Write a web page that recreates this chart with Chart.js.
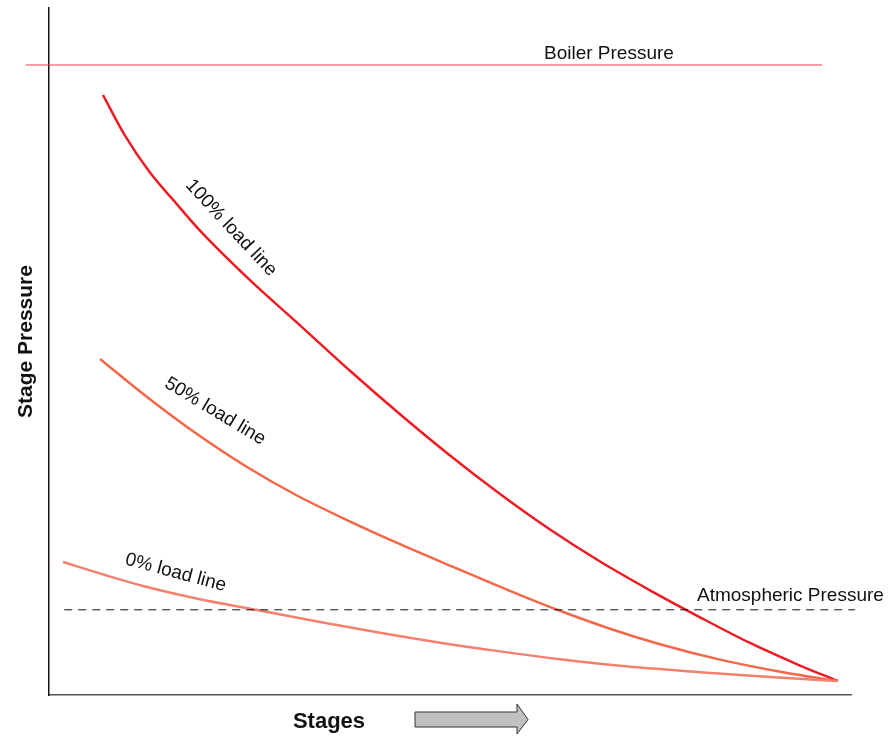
<!DOCTYPE html>
<html>
<head>
<meta charset="utf-8">
<script src="https://cdn.jsdelivr.net/npm/chart.js@4"></script>
<style>
  body { margin: 0; background: #fff; }
  #wrap { width: 891px; height: 736px; }
</style>
</head>
<body>
<div id="wrap"><canvas id="chart" width="891" height="736"></canvas></div>
<script>
// stage position (0 = first stage, 100 = exhaust) vs stage pressure (arbitrary units)
const stages100 = [6.73, 9.48, 12.59, 15.71, 18.83, 25.06, 31.30, 37.53, 43.77, 50.00, 56.24, 62.47, 68.71, 74.94, 81.18, 87.41, 93.64, 98.38];
const pressure100 = [87.34, 81.41, 76.04, 71.76, 67.59, 60.38, 53.81, 47.19, 40.86, 34.86, 29.26, 24.09, 19.43, 15.24, 11.31, 7.57, 4.29, 2.04];

const stages50 = [6.36, 12.22, 18.45, 24.69, 30.92, 37.16, 43.77, 50.38, 56.86, 63.47, 69.95, 76.19, 83.67, 91.52, 98.38];
const pressure50 = [48.91, 43.38, 37.99, 33.19, 29.04, 25.47, 21.96, 18.65, 15.46, 12.37, 9.65, 7.39, 5.15, 3.32, 2.04];

const stages0 = [1.75, 6.98, 12.22, 18.83, 25.94, 33.79, 41.27, 48.75, 56.24, 63.72, 71.20, 81.18, 89.90, 98.38];
const pressure0 = [19.36, 17.47, 15.72, 13.94, 12.37, 10.63, 9.06, 7.62, 6.35, 5.21, 4.25, 3.32, 2.61, 2.04];

const boilerPressure = 91.7;
const boilerSpan = [-2.9, 96.4];
const atmPressure = 12.4;
const atmSpan = [1.9, 100.5];

function pts(xs, ys) {
  return xs.map((x, i) => ({ x: x, y: ys[i] }));
}

// text placed on the plot (data coords for the curve labels)
const curveLabels = [
  { text: '100% load line', x: 22.7, y: 68.0, angle: 47 },
  { text: '50% load line', x: 20.7, y: 41.3, angle: 31 },
  { text: '0% load line', x: 15.8, y: 17.8, angle: 15 }
];

const annotations = {
  id: 'annotations',
  afterDatasetsDraw(chart) {
    const ctx = chart.ctx;
    const xs = chart.scales.x, ys = chart.scales.y;
    ctx.save();
    ctx.fillStyle = '#111';
    ctx.font = '19px "Liberation Sans", Arial, sans-serif';
    ctx.textAlign = 'center';
    ctx.textBaseline = 'middle';
    curveLabels.forEach(l => {
      ctx.save();
      ctx.translate(xs.getPixelForValue(l.x), ys.getPixelForValue(l.y));
      ctx.rotate(l.angle * Math.PI / 180);
      ctx.fillText(l.text, 0, 0);
      ctx.restore();
    });

    ctx.textAlign = 'left';
    ctx.textBaseline = 'alphabetic';
    ctx.fillText('Boiler Pressure', 544, ys.getPixelForValue(boilerPressure) - 6);
    ctx.fillText('Atmospheric Pressure', 697, ys.getPixelForValue(atmPressure) - 9);

    // axis titles
    ctx.font = 'bold 21px "Liberation Sans", Arial, sans-serif';
    ctx.textAlign = 'center';
    ctx.save();
    ctx.translate(32, (ys.top + ys.bottom) / 2 - 10);
    ctx.rotate(-Math.PI / 2);
    ctx.fillText('Stage Pressure', 0, 0);
    ctx.restore();
    ctx.font = 'bold 22px "Liberation Sans", Arial, sans-serif';
    ctx.fillText('Stages', 329, 728);

    // arrow next to "Stages"
    ctx.beginPath();
    ctx.moveTo(415, 712);
    ctx.lineTo(517, 712);
    ctx.lineTo(517, 704);
    ctx.lineTo(528, 719.5);
    ctx.lineTo(517, 734);
    ctx.lineTo(517, 727);
    ctx.lineTo(415, 727);
    ctx.closePath();
    ctx.fillStyle = '#c0c0c0';
    ctx.fill();
    ctx.strokeStyle = '#333';
    ctx.lineWidth = 1;
    ctx.stroke();
    ctx.restore();
  }
};

new Chart(document.getElementById('chart'), {
  type: 'scatter',
  data: {
    datasets: [
      {
        label: 'Boiler Pressure',
        data: pts(boilerSpan, [boilerPressure, boilerPressure]),
        borderColor: '#e8434f', borderWidth: 1.2, showLine: true, clip: false
      },
      {
        label: 'Atmospheric Pressure',
        data: pts(atmSpan, [atmPressure, atmPressure]),
        borderColor: '#111', borderWidth: 1, borderDash: [8, 6], showLine: true, clip: false
      },
      {
        label: '0% load line',
        data: pts(stages0, pressure0),
        borderColor: '#f4806f', borderWidth: 2.5, showLine: true
      },
      {
        label: '50% load line',
        data: pts(stages50, pressure50),
        borderColor: '#f26849', borderWidth: 2.5, showLine: true
      },
      {
        label: '100% load line',
        data: pts(stages100, pressure100),
        borderColor: '#ec1c24', borderWidth: 2.5, showLine: true
      }
    ]
  },
  options: {
    responsive: false,
    animation: false,
    layout: { padding: { left: 49, top: 8, right: 40, bottom: 41 } },
    elements: {
      point: { radius: 0 },
      line: { cubicInterpolationMode: 'monotone' }
    },
    plugins: { legend: { display: false }, tooltip: { enabled: false } },
    scales: {
      x: {
        type: 'linear', min: 0, max: 100,
        ticks: { display: false },
        grid: { display: false, drawTicks: false },
        border: { display: true, color: '#555', width: 1.5 }
      },
      y: {
        type: 'linear', min: 0, max: 100,
        ticks: { display: false },
        grid: { display: false, drawTicks: false },
        border: { display: true, color: '#111', width: 1.5 }
      }
    }
  },
  plugins: [annotations]
});
</script>
</body>
</html>
